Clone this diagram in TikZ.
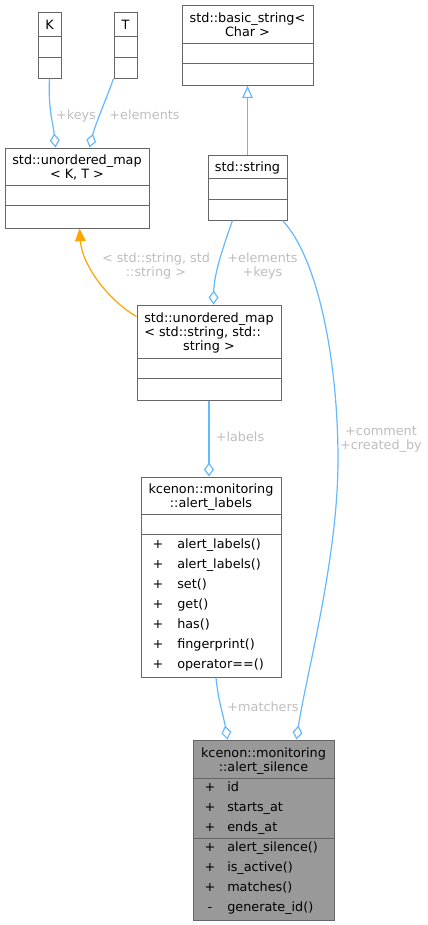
\documentclass[tikz,border=0pt]{standalone}
\usepackage{fontspec}
\setmainfont{DejaVu Sans}
\usetikzlibrary{arrows.meta,fit,calc}

\definecolor{edgeblue}{HTML}{63B8FF}
\definecolor{edgeorange}{HTML}{FFA500}
\definecolor{boxgrey}{HTML}{666666}
\definecolor{labelgrey}{HTML}{BEBEBE}
\definecolor{mainfill}{HTML}{999999}

\tikzset{
  classbox/.style={draw=boxgrey, line width=0.75pt, inner sep=0pt},
  divider/.style={draw=boxgrey, line width=0.75pt},
  txt/.style={inner sep=0pt, anchor=base, align=center, font=\fontsize{9.6}{10.5}\selectfont},
  edgelbl/.style={txt, text=labelgrey},
  aggr/.style={draw=edgeblue, line width=0.9pt, -{Diamond[open, length=10.5pt, width=7.5pt]}},
  inherit/.style={draw=edgeblue, line width=0.9pt, -{Triangle[open, length=9.5pt, width=8pt]}},
  templ/.style={draw=edgeorange, line width=0.9pt, -{Triangle[length=9.5pt, width=8pt, fill=edgeorange]}},
}

\begin{document}
\begin{tikzpicture}[x=0.75pt,y=0.75pt,yscale=-1,xscale=1]
\useasboundingbox (0,0) rectangle (428,925);

%Shape: Rectangle [K]
\node[classbox, fit={(38,12) (61,78)}] (K) {};
\draw[divider] (38,36) -- (61,36);
\draw[divider] (38,57) -- (61,57);
%Shape: Rectangle [T]
\node[classbox, fit={(114,12) (137,78)}] (T) {};
\draw[divider] (114,36) -- (137,36);
\draw[divider] (114,57) -- (137,57);
%Shape: Rectangle [std::basic_string]
\node[classbox, fit={(182,5) (313,85)}] (bstring) {};
\draw[divider] (182,43) -- (313,43);
\draw[divider] (182,63) -- (313,63);
%Shape: Rectangle [std::string]
\node[classbox, fit={(208,155) (287,220)}] (string) {};
\draw[divider] (208,178) -- (287,178);
\draw[divider] (208,199) -- (287,199);
%Shape: Rectangle [std::unordered_map< K, T >]
\node[classbox, fit={(5,148) (149,228)}] (mapKT) {};
\draw[divider] (5,185) -- (149,185);
\draw[divider] (5,205) -- (149,205);
%Shape: Rectangle [std::unordered_map< std::string, std::string >]
\node[classbox, fit={(137,305) (281,400)}] (mapSS) {};
\draw[divider] (137,358) -- (281,358);
\draw[divider] (137,378) -- (281,378);
%Shape: Rectangle [alert_labels]
\node[classbox, fit={(141,477) (281,677)}] (labels) {};
\draw[divider] (141,514) -- (281,514);
\draw[divider] (141,534) -- (281,534);
%Shape: Rectangle [alert_silence]
\node[classbox, fill=mainfill, fit={(193,740) (334,920)}] (silence) {};
\draw[divider] (193,778) -- (334,778);
\draw[divider] (193,838) -- (334,838);

% Text Node
\node[txt] (Kname) at (49.5,29) {K};
% Text Node
\node[txt] (Tname) at (125.5,29) {T};
% Text Node
\node[txt] (bstringname) at (247.5,36) {std::basic\_string<\\Char >};
% Text Node
\node[txt] (stringname) at (247.5,171) {std::string};
% Text Node
\node[txt] (mapKTname) at (77,178.5) {std::unordered\_map\\< K, T >};
% Text Node
\node[txt, anchor=base west, align=left] (mapSSname) at (144,336.5) {std::unordered\_map\\< std::string, std::};
\node[txt] (mapSSname2) at (209,350.5) {string >};
% Text Node
\node[txt] (labelsname) at (211,507.5) {kcenon::monitoring\\::alert\_labels};
\foreach \m [count=\i from 0] in {alert\_labels(), alert\_labels(), set(), get(), has(), fingerprint(), operator==()} {
  \node[txt] (lblsign\i) at (158,548+20*\i) {+};
  \node[txt, anchor=base west] (lblmem\i) at (177,548+20*\i) {\m};
}
% Text Node
\node[txt] (silencename) at (263.5,771) {kcenon::monitoring\\::alert\_silence};
\foreach \s/\m [count=\i from 0] in {+/id, +/starts\_at, +/ends\_at, +/alert\_silence(), +/is\_active(), +/matches(), -/generate\_id()} {
  \node[txt] (silsign\i) at (210,791+20*\i) {\s};
  \node[txt, anchor=base west] (silmem\i) at (227,791+20*\i) {\m};
}

%Curve Lines
\draw[aggr] (K.south) .. controls (48,110) and (53,122) .. ($(mapKT.north west)+(51,0)$);
\draw[aggr] (T.south west) .. controls (106,100) and (96,122) .. ($(mapKT.north west)+(85,0)$);
\draw[inherit] (string.north) -- (bstring.south);
\draw[aggr] ($(string.south west)+(25,0)$) .. controls (222,250) and (214,275) .. ($(mapSS.north west)+(77,0)$);
\draw[aggr] ($(string.south east)+(-5,0)$) .. controls (318,258) and (338,360) .. (338,460) .. controls (338,560) and (305,680) .. ($(silence.north west)+(104,0)$);
\draw[templ] ($(mapSS.north west)+(0,12)$) .. controls (108,300) and (82,265) .. ($(mapKT.south west)+(75,0)$);
\draw[aggr] (mapSS.south) -- (mapSS.south |- labels.north);
\draw[aggr] ($(labels.south)+(5,0)$) .. controls (218,700) and (224,718) .. ($(silence.north west)+(35,0)$);

% Text Node
\node[edgelbl] (keyslbl) at (76,119.5) {+keys};
% Text Node
\node[edgelbl] (elemlbl) at (144.5,119.5) {+elements};
% Text Node
\node[edgelbl] (elemkeyslbl) at (262.5,276.5) {+elements\\+keys};
% Text Node
\node[edgelbl] (templlbl) at (156,276.5) {< std::string, std\\::string >};
% Text Node
\node[edgelbl] (labelslbl) at (240,441.5) {+labels};
% Text Node
\node[edgelbl] (commentlbl) at (381,449.5) {+comment\\+created\_by};
% Text Node
\node[edgelbl] (matcherslbl) at (263,711.5) {+matchers};

\end{tikzpicture}
\end{document}
